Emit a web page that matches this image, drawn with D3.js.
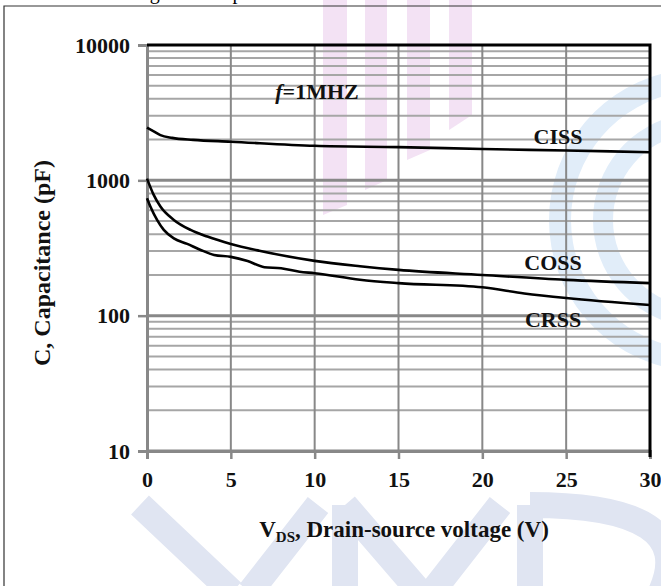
<!DOCTYPE html>
<html>
<head>
<meta charset="utf-8">
<script src="https://cdn.jsdelivr.net/npm/d3@7"></script>
<style>
  body { margin: 0; background: #fff; }
  text { font-family: "Liberation Serif", "Times New Roman", serif; }
</style>
</head>
<body>
<div id="canvas"></div>
<script>
var width = 661;
var height = 586;

// capacitance curves, pF vs VDS (V)
var cissV = [0, 0.4, 0.8, 1.5, 2.75, 5, 10, 15, 20, 25, 30];
var cissC = [2450, 2300, 2160, 2060, 1990, 1930, 1800, 1760, 1706, 1660, 1614];

var cossV = [0, 0.4, 0.8, 1.6, 2.6, 3.6, 5, 6.7, 10, 12.7, 15, 20, 25, 30];
var cossC = [1030, 780, 640, 510, 430, 384, 339, 302, 254, 232, 218, 200, 184, 174];

var crssV = [0, 0.2, 0.6, 1, 1.6, 2.4, 3.2, 4, 5, 6, 7, 8, 9.1, 10, 12.7, 15, 20, 22.5, 25, 30];
var crssC = [738, 640, 510, 430, 373, 339, 306, 281, 272, 253, 228, 224, 211, 206, 184, 174, 162, 146, 135, 120];

var xTicks = [0, 5, 10, 15, 20, 25, 30];
var yTicks = [10, 100, 1000, 10000];

var svg = d3.select("#canvas")
            .append("svg")
            .attr("width", width)
            .attr("height", height);

// faint watermark behind the chart
var wm = svg.append("g");
[[323, 347, 215, 205], [365, 387, 190, 180], [407, 430, 160, 150], [449, 472, 130, 115]].forEach(b => {
    wm.append("polygon")
        .attr("points", `${b[0]},0 ${b[1]},0 ${b[1]},${b[3]} ${b[0]},${b[2]}`)
        .attr("fill", "#f3e2f4");
});
var arc = d3.arc();
[[140, 22], [97, 20]].forEach(a => {
    wm.append("path")
        .attr("transform", "translate(700,220)")
        .attr("d", arc({ innerRadius: a[0] - a[1] / 2, outerRadius: a[0] + a[1] / 2, startAngle: -Math.PI * 0.95, endAngle: -Math.PI * 0.05 }))
        .attr("fill", "#e1edf9");
});
wm.append("path")
    .attr("d", "M140,505 L232,592 M318,505 L250,592 M345,505 L345,592 M345,505 L420,592 M500,505 L432,592 M530,505 L530,592 M530,505 Q700,505 661,592")
    .attr("fill", "none")
    .attr("stroke", "#e0e5f2")
    .attr("stroke-width", 26);

// table cell frame and clipped caption
svg.append("path")
    .attr("d", "M4,590 L4,6 L661,6")
    .attr("fill", "none")
    .attr("stroke", "#333")
    .attr("stroke-width", 1.2);
svg.append("text")
    .attr("x", 133)
    .attr("y", -1)
    .style("font-size", "20px")
    .text("Figure 8. Capacitance Characteristics");

var x = d3.scaleLinear().domain([0, 30]).range([147, 650]);
var y = d3.scaleLog().domain([10, 10000]).range([451, 45]);

// grid
var minor = [];
[10, 100, 1000].forEach(d => { for (var k = 1; k < 10; k++) minor.push(d * k); });

svg.append("g").selectAll("line")
    .data(minor)
    .join("line")
    .attr("x1", x(0)).attr("x2", x(30))
    .attr("y1", d => y(d)).attr("y2", d => y(d))
    .attr("stroke", d => yTicks.includes(d) ? "#888" : "#a6a6a6")
    .attr("stroke-width", d => yTicks.includes(d) ? 3 : 2);

svg.append("g").selectAll("line")
    .data(xTicks.slice(1, -1))
    .join("line")
    .attr("x1", d => x(d)).attr("x2", d => x(d))
    .attr("y1", y(10)).attr("y2", y(10000))
    .attr("stroke", "#888")
    .attr("stroke-width", 2);

// axes
var xAxis = d3.axisBottom(x).tickValues(xTicks).tickSize(8).tickPadding(12);
var yAxis = d3.axisLeft(y).tickValues(yTicks).tickFormat(d3.format("d")).tickSize(9).tickPadding(8);

var gx = svg.append("g").attr("transform", `translate(0,${y(10)})`).call(xAxis);
var gy = svg.append("g").attr("transform", `translate(${x(0)},0)`).call(yAxis);

[gx, gy].forEach(g => {
    g.select(".domain").attr("stroke", "#888").attr("stroke-width", 3);
    g.selectAll(".tick line").attr("stroke", "#888").attr("stroke-width", 2.5);
    g.selectAll(".tick text")
        .attr("fill", "#111")
        .style("font-family", "'Liberation Serif', serif")
        .style("font-weight", "bold")
        .style("font-size", "22px");
});

// top and right border
svg.append("path")
    .attr("d", `M${x(0)},${y(10000)} L${x(30)},${y(10000)} L${x(30)},${y(10) + 6}`)
    .attr("fill", "none")
    .attr("stroke", "#000")
    .attr("stroke-width", 3);

// curves
var line = d3.line()
    .x(d => x(d[0]))
    .y(d => y(d[1]))
    .curve(d3.curveMonotoneX);

[[cissV, cissC], [cossV, cossC], [crssV, crssC]].forEach(s => {
    svg.append("path")
        .datum(d3.zip(s[0], s[1]))
        .attr("d", line)
        .attr("fill", "none")
        .attr("stroke", "#000")
        .attr("stroke-width", 2.6);
});

// labels
function label(tx, ty, str) {
    return svg.append("text")
        .attr("x", tx).attr("y", ty)
        .attr("text-anchor", "middle")
        .style("font-size", "22px")
        .style("font-weight", "bold")
        .attr("fill", "#111")
        .text(str);
}
label(558, 144, "CISS");
label(553, 270, "COSS");
label(553, 327, "CRSS");

var fl = svg.append("text")
    .attr("x", 317).attr("y", 99)
    .attr("text-anchor", "middle")
    .style("font-size", "22px")
    .style("font-weight", "bold")
    .attr("fill", "#111");
fl.append("tspan").style("font-style", "italic").text("f");
fl.append("tspan").text("=1MHZ");

var xt = svg.append("text")
    .attr("x", 404).attr("y", 537)
    .attr("text-anchor", "middle")
    .style("font-size", "23px")
    .style("font-weight", "bold")
    .attr("fill", "#111");
xt.append("tspan").text("V");
xt.append("tspan").attr("dy", 5).style("font-size", "15px").text("DS");
xt.append("tspan").attr("dy", -5).text(", Drain-source voltage (V)");

svg.append("text")
    .attr("transform", "translate(50,263) rotate(-90)")
    .attr("text-anchor", "middle")
    .style("font-size", "24px")
    .style("font-weight", "bold")
    .attr("fill", "#111")
    .text("C, Capacitance (pF)");
</script>
</body>
</html>
